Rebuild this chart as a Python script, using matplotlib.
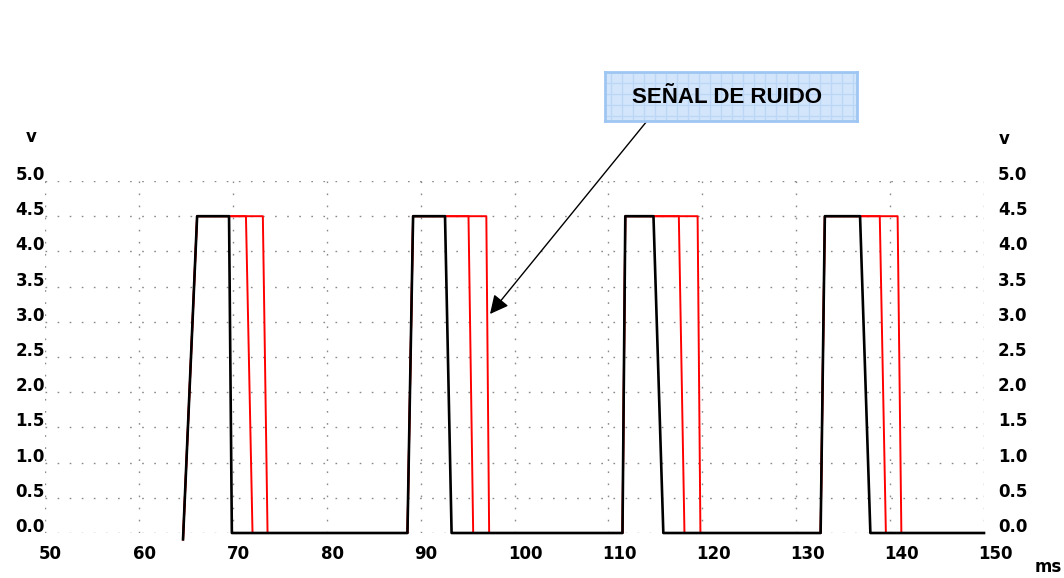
import numpy as np
import matplotlib
matplotlib.use("Agg")
import matplotlib.pyplot as plt
import matplotlib.transforms as mtransforms

# ---------------- data ----------------
x_ticks = [50, 60, 70, 80, 90, 100, 110, 120, 130, 140, 150]
y_ticks = [0.0, 0.5, 1.0, 1.5, 2.0, 2.5, 3.0, 3.5, 4.0, 4.5, 5.0]
y_tick_labels = ["0.0", "0.5", "1.0", "1.5", "2.0", "2.5", "3.0", "3.5", "4.0", "4.5", "5.0"]

v_high = 4.5
v_low = 0.0
v_start = -0.09

# edge times (ms) for each of the 4 pulses
rise_start = [64.7, 88.6, 111.5, 132.6]
rise_end = [66.2, 89.2, 111.8, 133.05]
fall_start = [69.6, 92.6, 114.8, 136.8]
fall_end = [69.9, 93.3, 115.85, 137.9]
red1_fall_start = [71.4, 95.1, 117.5, 138.9]
red1_fall_end = [72.1, 95.6, 118.1, 139.55]
red2_fall_start = [73.2, 97.0, 119.5, 140.8]
red2_fall_end = [73.7, 97.3, 119.8, 141.2]
t_end = 150.0

annotation_text = "SEÑAL DE RUIDO"


def waveform(rs, re, fs, fe, start_level):
    xs, ys = [], []
    for i in range(len(rs)):
        xs += [rs[i], re[i], fs[i], fe[i]]
        ys += [start_level if i == 0 else v_low, v_high, v_high, v_low]
    xs.append(t_end)
    ys.append(v_low)
    return xs, ys


bx, by = waveform(rise_start, rise_end, fall_start, fall_end, v_start)
r1x, r1y = waveform(rise_start, rise_end, red1_fall_start, red1_fall_end, v_start)
r2x, r2y = waveform(rise_start, rise_end, red2_fall_start, red2_fall_end, v_start)

# ---------------- figure ----------------
W, H = 1064, 578
fig = plt.figure(figsize=(W / 100, H / 100), dpi=100)
fig.patch.set_facecolor("white")

ax_l, ax_r, ax_t, ax_b = 45, 984, 181, 533
ax = fig.add_axes([ax_l / W, (H - ax_b) / H, (ax_r - ax_l) / W, (ax_b - ax_t) / H])
ax.set_xlim(50, 150)
ax.set_ylim(0, 5)
for s in ax.spines.values():
    s.set_visible(False)
ax.set_xticks(x_ticks)
ax.set_yticks(y_ticks)
ax.tick_params(length=0, labelbottom=False, labelleft=False)
ax.grid(True, color="#8a8a8a", linewidth=1.0, linestyle=(0, (1.2, 7.5)))
ax.set_axisbelow(True)

ax.plot(r2x, r2y, color="#ff0000", lw=1.4, zorder=3, clip_on=False)
ax.plot(r1x, r1y, color="#ff0000", lw=1.4, zorder=3, clip_on=False)
ax.plot(bx, by, color="#000000", lw=1.9, zorder=4, clip_on=False)

tick_font = dict(family="DejaVu Sans", fontweight="bold", fontsize=12, color="black")

# x tick labels
bt = mtransforms.blended_transform_factory(ax.transData, ax.transAxes)
xt = mtransforms.offset_copy(bt, fig=fig, x=-6, y=-26, units="dots")
for t in x_ticks:
    ax.text(t, 0, str(t), transform=xt, ha="left", va="baseline", **tick_font)

# y tick labels (left and right)
bl = mtransforms.blended_transform_factory(ax.transAxes, ax.transData)
ylt = mtransforms.offset_copy(bl, fig=fig, x=0, y=1, units="dots")
yrt = mtransforms.offset_copy(bl, fig=fig, x=14, y=1, units="dots")
for v, lab in zip(y_ticks, y_tick_labels):
    ax.text(0, v, lab, transform=ylt, ha="right", va="baseline", **tick_font)
    ax.text(1, v, lab, transform=yrt, ha="left", va="baseline", **tick_font)

# unit labels
fig.text(31 / W, (H - 142) / H, "v", ha="center", va="baseline", **tick_font)
fig.text(1004 / W, (H - 144) / H, "v", ha="center", va="baseline", **tick_font)
fig.text(1035 / W, 2 / H, "ms", ha="left", va="bottom", **tick_font)

# annotation box
bx0, bx1, by0, by1 = 605, 857, 72, 121
box = fig.add_axes([bx0 / W, (H - by1) / H, (bx1 - bx0) / W, (by1 - by0) / H])
bw, bh = bx1 - bx0, by1 - by0
box.set_xlim(0, bw)
box.set_ylim(0, bh)
box.set_facecolor("#d3e5fb")
box.set_xticks(np.arange(6, bw, 11))
box.set_yticks(np.arange(5, bh, 11))
box.tick_params(length=0, labelbottom=False, labelleft=False)
box.grid(True, color="#bcd6f6", linewidth=1.0)
for s in box.spines.values():
    s.set_color("#9ec6f3")
    s.set_linewidth(2.0)
box.text(bw / 2 - 4, bh / 2 - 1, annotation_text, ha="center", va="center",
         family="Liberation Sans", fontweight="bold", fontsize=16, color="black")

# arrow
ax.annotate("", xy=(490, H - 314), xycoords="figure pixels",
            xytext=(647, H - 121), textcoords="figure pixels",
            arrowprops=dict(arrowstyle="-|>", color="black", lw=1.0,
                            mutation_scale=28, shrinkA=0, shrinkB=0),
            annotation_clip=False, zorder=10)

fig.savefig("out.png", dpi=100)
